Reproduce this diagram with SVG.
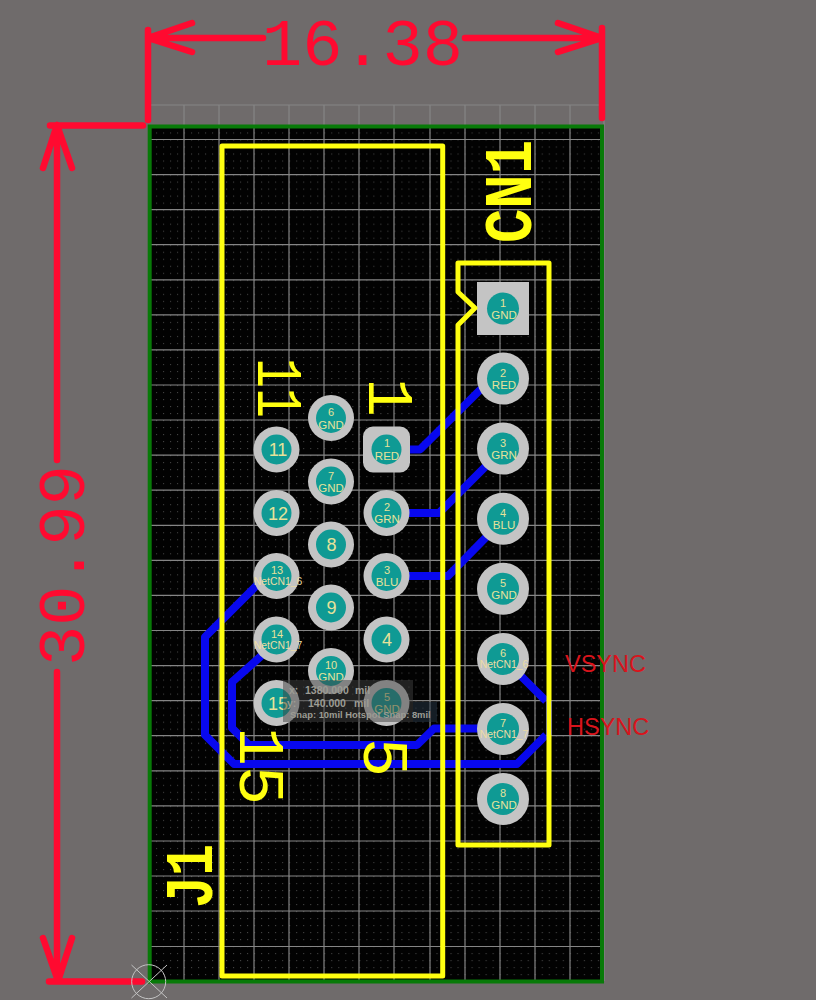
<svg xmlns="http://www.w3.org/2000/svg" width="816" height="1000" viewBox="0 0 816 1000">
<style>
.grid{stroke:#858585;stroke-width:1.2;fill:none}
.trace{stroke:#0808ee;stroke-width:8;fill:none;stroke-linejoin:round}
.silk{stroke:#ffff10;stroke-width:5;fill:none;stroke-linejoin:round}
.dim{stroke:#ff0a30;stroke-width:6.5;fill:none;stroke-linecap:round;stroke-linejoin:round}
.ring{fill:#c4c4c4}
.hole{fill:#0f9a94}
.pt{font-family:"Liberation Sans",Arial,sans-serif;fill:#e6e29a;text-anchor:middle}
.n{font-size:11px}
.l{font-size:11.5px}
.net{font-size:10.4px;fill:#ecdca4}
.big{font-size:18px}
.dt{font-family:"Liberation Mono",monospace;font-size:67px;fill:#ff0a30}
.st{font-family:"Liberation Mono",monospace;fill:#ffff10}
.sb{font-weight:bold;font-size:68px}
.sn{font-size:65px}
.red{font-family:"Liberation Sans",Arial,sans-serif;font-size:23.500px;fill:#d8141c}
.hud{font-family:"Liberation Sans",Arial,sans-serif;font-weight:bold;fill:#9c9c94}
</style>
<defs>
<pattern id="dots" patternUnits="userSpaceOnUse" x="184" y="139.5" width="7.014" height="7.014">
<rect width="1" height="1" fill="#4a4a4a"/>
</pattern>
</defs>
<rect id="background" width="816" height="1000" fill="#6f6b6b"/>
<g id="board">
<rect x="150" y="127" width="452" height="855" fill="#020202"/>
<rect x="150" y="127" width="452" height="855" fill="url(#dots)"/>
<path class="grid" d="M184 105V981M219 105V981M254 105V981M289 105V981M324 105V981M359 105V981M394 105V981M430 105V981M465 105V981M500 105V981M535 105V981M570 105V981M604 105V981M149 105H604M149 139.5H602M149 174.6H602M149 209.6H602M149 244.7H602M149 279.8H602M149 314.9H602M149 349.9H602M149 385H602M149 420H602M149 455.1H602M149 490.2H602M149 525.3H602M149 560.3H602M149 595.4H602M149 630.5H602M149 665.6H602M149 700.6H602M149 735.7H602M149 770.8H602M149 805.9H602M149 841H602M149 876H602M149 911H602M149 946.5H602"/>
<rect x="149.7" y="126.5" width="452.3" height="855" fill="none" stroke="#087a08" stroke-width="4"/>
</g>
<g id="connectors">
<path class="trace" d="M386.7 449.5H420L481 389"/>
<path class="trace" d="M386.7 513H439L503 449"/>
<path class="trace" d="M386.7 576H448L503 520"/>
<path class="trace" d="M262 581L255 587L205 637V735L234 764H517L546 735"/>
<path class="trace" d="M503 659L521 676L546 701"/>
<path d="M549 701V735" stroke="#0808ee" stroke-width="6" fill="none"/>
<path class="trace" d="M276.5 640L260 657L232 682V728L249 745H417L434 728.5H503"/>
</g>
<g id="cn1-pad-1"><rect class="ring" x="477" y="282" width="52" height="53"/><circle class="hole" cx="503" cy="308.5" r="16"/><text class="pt n" x="503" y="306.5">1</text><text class="pt l" x="504" y="318.5">GND</text></g>
<g id="cn1-pad-2"><circle class="ring" cx="503" cy="378.6" r="26"/><circle class="hole" cx="503" cy="378.6" r="16"/><text class="pt n" x="503" y="376.6">2</text><text class="pt l" x="504" y="389">RED</text></g>
<g id="cn1-pad-3"><circle class="ring" cx="503" cy="448.6" r="26"/><circle class="hole" cx="503" cy="448.6" r="16"/><text class="pt n" x="503" y="446.6">3</text><text class="pt l" x="504" y="459">GRN</text></g>
<g id="cn1-pad-4"><circle class="ring" cx="503" cy="518.7" r="26"/><circle class="hole" cx="503" cy="518.7" r="16"/><text class="pt n" x="503" y="516.7">4</text><text class="pt l" x="504" y="529">BLU</text></g>
<g id="cn1-pad-5"><circle class="ring" cx="503" cy="588.8" r="26"/><circle class="hole" cx="503" cy="588.8" r="16"/><text class="pt n" x="503" y="586.8">5</text><text class="pt l" x="504" y="599">GND</text></g>
<g id="cn1-pad-6"><circle class="ring" cx="503" cy="658.9" r="26"/><circle class="hole" cx="503" cy="658.9" r="16"/><text class="pt n" x="503" y="656.9">6</text><text class="pt net" x="504" y="668">NetCN1_6</text></g>
<g id="cn1-pad-7"><circle class="ring" cx="503" cy="728.9" r="26"/><circle class="hole" cx="503" cy="728.9" r="16"/><text class="pt n" x="503" y="726.9">7</text><text class="pt net" x="504" y="738">NetCN1_7</text></g>
<g id="cn1-pad-8"><circle class="ring" cx="503" cy="799" r="26"/><circle class="hole" cx="503" cy="799" r="16"/><text class="pt n" x="503" y="797">8</text><text class="pt l" x="504" y="809">GND</text></g>
<g id="j1-pad-1"><rect class="ring" x="363" y="426.5" width="47" height="46" rx="10"/><circle class="hole" cx="386.5" cy="449.5" r="15"/><text class="pt n" x="387" y="447">1</text><text class="pt l" x="387" y="460">RED</text></g>
<g id="j1-pad-2"><circle class="ring" cx="386.5" cy="513" r="23"/><circle class="hole" cx="386.5" cy="513" r="15"/><text class="pt n" x="387" y="511">2</text><text class="pt l" x="387" y="523">GRN</text></g>
<g id="j1-pad-3"><circle class="ring" cx="386.5" cy="576" r="23"/><circle class="hole" cx="386.5" cy="576" r="15"/><text class="pt n" x="387" y="574">3</text><text class="pt l" x="387" y="586">BLU</text></g>
<g id="j1-pad-4"><circle class="ring" cx="386.5" cy="639.5" r="23"/><circle class="hole" cx="386.5" cy="639.5" r="15"/><text class="pt big" x="387" y="646">4</text></g>
<g id="j1-pad-5"><circle class="ring" cx="386.5" cy="703" r="23"/><circle class="hole" cx="386.5" cy="703" r="15"/><text class="pt n" x="387" y="701">5</text><text class="pt l" x="387" y="713">GND</text></g>
<g id="j1-pad-6"><circle class="ring" cx="331" cy="418" r="23"/><circle class="hole" cx="331" cy="418" r="15"/><text class="pt n" x="331" y="416">6</text><text class="pt l" x="331" y="428.5">GND</text></g>
<g id="j1-pad-7"><circle class="ring" cx="331" cy="481.5" r="23"/><circle class="hole" cx="331" cy="481.5" r="15"/><text class="pt n" x="331" y="479.5">7</text><text class="pt l" x="331" y="492">GND</text></g>
<g id="j1-pad-8"><circle class="ring" cx="331" cy="544.5" r="23"/><circle class="hole" cx="331" cy="544.5" r="15"/><text class="pt big" x="331.5" y="551">8</text></g>
<g id="j1-pad-9"><circle class="ring" cx="331" cy="607.5" r="23"/><circle class="hole" cx="331" cy="607.5" r="15"/><text class="pt big" x="331.5" y="614">9</text></g>
<g id="j1-pad-10"><circle class="ring" cx="331" cy="671" r="23"/><circle class="hole" cx="331" cy="671" r="15"/><text class="pt n" x="331" y="669">10</text><text class="pt l" x="331" y="681">GND</text></g>
<g id="j1-pad-11"><circle class="ring" cx="276.5" cy="449.5" r="23"/><circle class="hole" cx="276.5" cy="449.5" r="15"/><text class="pt big" x="278" y="456">11</text></g>
<g id="j1-pad-12"><circle class="ring" cx="276.5" cy="513" r="23"/><circle class="hole" cx="276.5" cy="513" r="15"/><text class="pt big" x="278" y="519.5">12</text></g>
<g id="j1-pad-13"><circle class="ring" cx="276.5" cy="576" r="23"/><circle class="hole" cx="276.5" cy="576" r="15"/><text class="pt n" x="277" y="574">13</text><text class="pt net" x="278" y="585">NetCN1_6</text></g>
<g id="j1-pad-14"><circle class="ring" cx="276.5" cy="639.5" r="23"/><circle class="hole" cx="276.5" cy="639.5" r="15"/><text class="pt n" x="277" y="637.5">14</text><text class="pt net" x="278" y="649">NetCN1_7</text></g>
<g id="j1-pad-15"><circle class="ring" cx="276.5" cy="703" r="23"/><circle class="hole" cx="276.5" cy="703" r="15"/><text class="pt big" x="278" y="709.5">15</text></g>
<g id="j1-outline"><rect class="silk" x="222" y="146" width="220.7" height="830"/></g>
<g id="cn1-outline"><path class="silk" d="M458 263H549V845H458V325L475 308L458 292Z"/></g>
<g id="silk-labels">
<text class="st sb" transform="translate(531 243) rotate(-90)" textLength="103" lengthAdjust="spacingAndGlyphs">CN1</text>
<text class="st sb" transform="translate(212 908) rotate(-90)" textLength="64" lengthAdjust="spacingAndGlyphs">J1</text>
<text class="st sn" transform="translate(258 358) rotate(90)" textLength="60" lengthAdjust="spacingAndGlyphs">11</text>
<text class="st sn" transform="translate(369 378) rotate(90)">1</text>
<text class="st sn" transform="translate(240 727) rotate(90)">15</text>
<text class="st sn" transform="translate(364 738) rotate(90)">5</text>
</g>
<g id="dimension-width">
<path class="dim" d="M148 30V120M602 28V118M148 38H263M465 38H602M192 23L148 38L192 52M558 23L602 38L558 52"/>
<text class="dt" x="262" y="65">16.38</text>
</g>
<g id="dimension-height">
<path class="dim" d="M50 125.500H143M57 125V460M57 672V981M49 981.500H142M43 168L57 125L72 168M43 938L58 981L72 938"/>
<text class="dt" transform="translate(84 666) rotate(-90)">30.99</text>
</g>
<g id="net-labels">
<text class="red" x="565" y="671.500">VSYNC</text>
<text class="red" x="567" y="735">HSYNC</text>
</g>
<g id="origin" fill="none" stroke="#c4c4c4" stroke-width="1">
<circle cx="148.700" cy="981.700" r="17"/>
<path d="M131.500 965L167 998M167 965L131.500 998"/>
</g>
<g id="hud">
<rect x="283" y="680" width="130" height="42" fill="#404040" fill-opacity="0.5"/>
<rect x="413" y="702" width="24" height="20" fill="#283848" fill-opacity="0.5"/>
<text class="hud" font-size="10.500" y="694"><tspan x="289">x:</tspan><tspan x="305">1380.000</tspan><tspan x="355">mil</tspan></text>
<text class="hud" font-size="10.500" y="707"><tspan x="287">y:</tspan><tspan x="308">140.000</tspan><tspan x="354">mil</tspan></text>
<text class="hud" font-size="9.400" x="290" y="718">Snap: 10mil Hotspot Snap: 8mil</text>
</g>
</svg>
